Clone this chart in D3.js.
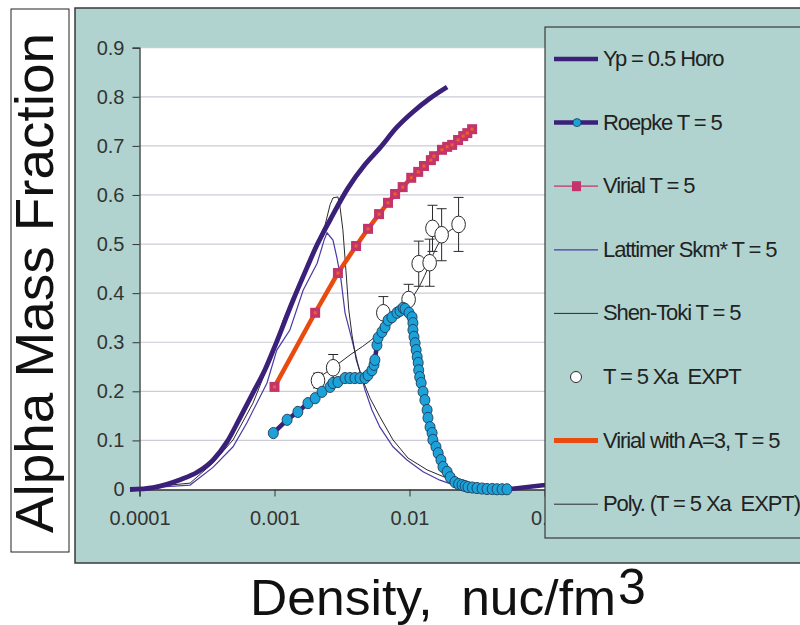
<!DOCTYPE html>
<html>
<head>
<meta charset="utf-8">
<script src="https://cdn.jsdelivr.net/npm/d3@7"></script>
<style>
  html, body { margin: 0; padding: 0; background: #fff; }
  svg { display: block; font-family: "Liberation Sans", Arial, sans-serif; }
</style>
</head>
<body>
<script>
// Yp = 0.5 Horo
const horoX = [8.5e-5, 1.26e-4, 2.0e-4, 2.67e-4, 3.5e-4, 4.45e-4, 5.55e-4, 6.93e-4, 8.5e-4, 1.0e-3, 1.37e-3, 1.74e-3, 2.0e-3, 2.58e-3, 3.5e-3, 4.68e-3, 6.04e-3, 8.07e-3, 1.06e-2, 1.42e-2, 1.90e-2];
const horoY = [0, 0.004, 0.02, 0.035, 0.06, 0.097, 0.146, 0.197, 0.244, 0.29, 0.385, 0.452, 0.49, 0.549, 0.614, 0.662, 0.696, 0.738, 0.769, 0.797, 0.820];

// Roepke T = 5
const roepkeX = [0.00098, 0.00124, 0.00149, 0.00177, 0.0020, 0.00225, 0.00258, 0.00271, 0.00295, 0.00333, 0.00362, 0.00394, 0.0043, 0.00468, 0.00493, 0.00527, 0.00546, 0.00554, 0.00574, 0.00585, 0.00625, 0.00659, 0.00694, 0.00741, 0.00807, 0.00851, 0.00895, 0.00927, 0.00991, 0.01045, 0.0106, 0.0106, 0.0108, 0.0110, 0.0112, 0.0114, 0.0116, 0.0117, 0.0119, 0.0122, 0.0126, 0.0130, 0.0135, 0.0137, 0.0142, 0.0147, 0.0149, 0.0157, 0.0163, 0.0171, 0.0177, 0.0190, 0.0200, 0.0217, 0.0231, 0.0245, 0.0258, 0.0271, 0.0292, 0.0316, 0.0345, 0.0375, 0.0410, 0.0445, 0.0485, 0.0527];
const roepkeY = [0.115, 0.142, 0.158, 0.176, 0.186, 0.199, 0.209, 0.217, 0.219, 0.227, 0.227, 0.227, 0.227, 0.227, 0.233, 0.243, 0.254, 0.264, 0.294, 0.309, 0.321, 0.331, 0.345, 0.351, 0.360, 0.364, 0.370, 0.368, 0.360, 0.351, 0.339, 0.325, 0.311, 0.298, 0.284, 0.270, 0.258, 0.243, 0.229, 0.217, 0.199, 0.182, 0.162, 0.146, 0.127, 0.115, 0.101, 0.087, 0.074, 0.060, 0.046, 0.036, 0.025, 0.015, 0.011, 0.009, 0.007, 0.005, 0.004, 0.003, 0.002, 0.001, 0.001, 0.0005, 0.0005, 0.0005];
const roepkeTailX = [0.0527, 0.101, 0.3];
const roepkeTailY = [0.0005, 0.009, 0.03];

// Virial T = 5 (and Virial with A=3, T = 5 on the same points)
const virialX = [0.001, 0.002, 0.00295, 0.00402, 0.00493, 0.00595, 0.00693, 0.00782, 0.0089, 0.0103, 0.0116, 0.0128, 0.0144, 0.0152, 0.0174, 0.0190, 0.0207, 0.0229, 0.0250, 0.0268, 0.0291];
const virialY = [0.209, 0.36, 0.441, 0.496, 0.531, 0.561, 0.584, 0.602, 0.616, 0.635, 0.647, 0.659, 0.671, 0.679, 0.692, 0.698, 0.702, 0.712, 0.72, 0.726, 0.734];

// Lattimer Skm* T = 5
const latX = [8.5e-5, 2.37e-4, 3.5e-4, 4.93e-4, 6.25e-4, 8.8e-4, 1.04e-3, 1.30e-3, 1.63e-3, 2.07e-3, 2.25e-3, 2.33e-3, 2.45e-3, 2.71e-3, 2.9e-3, 3.11e-3, 3.33e-3, 3.75e-3, 4.16e-3, 4.68e-3, 5.27e-3, 6.04e-3, 7.55e-3, 9.58e-3, 1.26e-2, 1.68e-2, 2.37e-2, 3.98e-2];
const latY = [0.001, 0.009, 0.045, 0.087, 0.136, 0.217, 0.284, 0.325, 0.406, 0.461, 0.494, 0.508, 0.523, 0.508, 0.472, 0.427, 0.36, 0.305, 0.254, 0.203, 0.162, 0.127, 0.087, 0.06, 0.036, 0.019, 0.005, 0.001];

// Shen-Toki T = 5
const shenX = [8.5e-5, 2.37e-4, 3.5e-4, 4.93e-4, 6.93e-4, 9.3e-4, 1.16e-3, 1.55e-3, 1.93e-3, 2.37e-3, 2.58e-3, 2.71e-3, 2.95e-3, 3.06e-3, 3.21e-3, 3.38e-3, 3.55e-3, 3.75e-3, 4.03e-3, 4.5e-3, 5.1e-3, 6.04e-3, 7.55e-3, 9.75e-3, 1.35e-2, 1.9e-2, 2.37e-2, 3.98e-2];
const shenY = [0.001, 0.013, 0.054, 0.101, 0.176, 0.264, 0.345, 0.427, 0.488, 0.539, 0.58, 0.594, 0.596, 0.575, 0.529, 0.447, 0.366, 0.315, 0.264, 0.223, 0.186, 0.148, 0.101, 0.064, 0.04, 0.023, 0.009, 0.001];

// T = 5 Xa EXPT
const exptX = [0.0021, 0.00272, 0.0064, 0.00985, 0.0117, 0.0141, 0.0148, 0.0173, 0.0231];
const exptY = [0.222, 0.248, 0.36, 0.387, 0.46, 0.462, 0.532, 0.519, 0.54];
const exptErr = [0.015, 0.027, 0.033, 0.031, 0.046, 0.048, 0.047, 0.053, 0.055];

// Poly. (T = 5 Xa EXPT)
const polyX = [2.1e-3, 2.9e-3, 3.62e-3, 4.84e-3, 6.04e-3, 7.55e-3, 9.58e-3, 1.14e-2, 1.35e-2, 1.55e-2, 1.77e-2, 2.25e-2];
const polyY = [0.227, 0.254, 0.274, 0.298, 0.321, 0.36, 0.38, 0.406, 0.447, 0.488, 0.514, 0.535];

const xTicks = [0.0001, 0.001, 0.01, 0.1];
const xTickLabels = ["0.0001", "0.001", "0.01", "0.1"];
const yTicks = [0, 0.1, 0.2, 0.3, 0.4, 0.5, 0.6, 0.7, 0.8, 0.9];
const legendNames = ["Yp = 0.5 Horo", "Roepke T = 5", "Virial T = 5", "Lattimer Skm* T = 5", "Shen-Toki T = 5", "T = 5 Xa\u00a0\u00a0EXPT", "Virial with A=3, T = 5", "Poly. (T = 5 Xa\u00a0\u00a0EXPT)"];

const W = 800, H = 625;
const teal = "#b0d3cf";
const purple = "#3a2079";
const cyan = "#1ca2d9";
const pink = "#c3356a";
const orange = "#e84a0f";
const latColor = "#4b3aa6";
const dark = "#2a2a2a";

const svg = d3.select("body").append("svg").attr("width", W).attr("height", H);

const x = d3.scaleLog().domain([1e-4, 1]).range([139.5, 679.5]);
const y = d3.scaleLinear().domain([0, 0.9]).range([489.5, 47.7]);

const zip = (xs, ys) => xs.map((v, i) => [v, ys[i]]);
const line = d3.line().x(d => x(d[0])).y(d => y(d[1]));
const smooth = d3.line().x(d => x(d[0])).y(d => y(d[1])).curve(d3.curveMonotoneX);

// outer chart panel
svg.append("rect").attr("x", 75).attr("y", 8).attr("width", 760).attr("height", 555)
  .attr("fill", teal).attr("stroke", "#3a3a3a").attr("stroke-width", 1.5);

// y title box
svg.append("rect").attr("x", 11).attr("y", 9).attr("width", 58).attr("height", 543)
  .attr("fill", "#fff").attr("stroke", "#222").attr("stroke-width", 1);
svg.append("text")
  .attr("transform", "translate(53,283) rotate(-90)")
  .attr("text-anchor", "middle")
  .attr("font-size", 54)
  .attr("textLength", 500)
  .attr("lengthAdjust", "spacingAndGlyphs")
  .attr("fill", "#111")
  .text("Alpha Mass Fraction");

// plot area
svg.append("rect").attr("x", 139.5).attr("y", 47.7).attr("width", 540).attr("height", 489.5 - 47.7)
  .attr("fill", "#fff");

// gridlines
svg.append("g").selectAll("line").data(yTicks.filter(d => d > 0)).join("line")
  .attr("x1", 139.5).attr("x2", 679.5)
  .attr("y1", d => y(d)).attr("y2", d => y(d))
  .attr("stroke", "#cbccd6").attr("stroke-width", 1.2);

// axes
const yAxis = svg.append("g").attr("transform", "translate(139.5,0)")
  .call(d3.axisLeft(y).tickValues(yTicks).tickSize(7).tickPadding(8).tickFormat(d => d === 0 ? "0" : d3.format(".1f")(d)));
const xAxis = svg.append("g").attr("transform", "translate(0,489.5)")
  .call(d3.axisBottom(x).tickValues(xTicks).tickSize(7).tickPadding(14).tickFormat((d, i) => xTickLabels[i]));
[yAxis, xAxis].forEach(g => {
  g.select(".domain").attr("stroke", "#333").attr("stroke-width", 1.3);
  g.selectAll(".tick line").attr("stroke", "#333");
  g.selectAll(".tick text").attr("font-size", 20).attr("fill", "#333")
    .attr("font-family", "'Liberation Sans', Arial, sans-serif");
});

// thin model curves
svg.append("path").datum(zip(latX, latY)).attr("d", line)
  .attr("fill", "none").attr("stroke", latColor).attr("stroke-width", 1.2);
svg.append("path").datum(zip(shenX, shenY)).attr("d", line)
  .attr("fill", "none").attr("stroke", dark).attr("stroke-width", 1);

// Horo
svg.append("path").datum(zip(horoX, horoY)).attr("d", smooth)
  .attr("fill", "none").attr("stroke", purple).attr("stroke-width", 4.8);

// polynomial trend of experiment
svg.append("path").datum(zip(polyX, polyY)).attr("d", smooth)
  .attr("fill", "none").attr("stroke", dark).attr("stroke-width", 1);

// experiment error bars and points
const expt = exptX.map((v, i) => ({ x: v, y: exptY[i], e: exptErr[i] }));
const eb = svg.append("g").attr("stroke", dark).attr("stroke-width", 1);
eb.selectAll("line.v").data(expt).join("line").attr("class", "v")
  .attr("x1", d => x(d.x)).attr("x2", d => x(d.x))
  .attr("y1", d => y(d.y - d.e)).attr("y2", d => y(d.y + d.e));
eb.selectAll("line.t").data(expt).join("line").attr("class", "t")
  .attr("x1", d => x(d.x) - 5).attr("x2", d => x(d.x) + 5)
  .attr("y1", d => y(d.y + d.e)).attr("y2", d => y(d.y + d.e));
eb.selectAll("line.b").data(expt).join("line").attr("class", "b")
  .attr("x1", d => x(d.x) - 5).attr("x2", d => x(d.x) + 5)
  .attr("y1", d => y(d.y - d.e)).attr("y2", d => y(d.y - d.e));
svg.append("g").selectAll("ellipse").data(expt).join("ellipse")
  .attr("cx", d => x(d.x)).attr("cy", d => y(d.y)).attr("rx", 6.8).attr("ry", 8.3)
  .attr("fill", "#fff").attr("stroke", dark).attr("stroke-width", 1);

// Roepke
svg.append("path").datum(zip(roepkeTailX, roepkeTailY)).attr("d", line)
  .attr("fill", "none").attr("stroke", purple).attr("stroke-width", 4.5);
svg.append("path").datum(zip(roepkeX, roepkeY)).attr("d", line)
  .attr("fill", "none").attr("stroke", purple).attr("stroke-width", 4.5);
svg.append("g").selectAll("ellipse").data(zip(roepkeX, roepkeY)).join("ellipse")
  .attr("cx", d => x(d[0])).attr("cy", d => y(d[1])).attr("rx", 5).attr("ry", 5.6)
  .attr("fill", cyan).attr("stroke", "#1d3d58").attr("stroke-width", 0.9);

// Virial with A=3 line, Virial squares, small orange markers
const vir = zip(virialX, virialY);
svg.append("path").datum(vir).attr("d", line)
  .attr("fill", "none").attr("stroke", orange).attr("stroke-width", 4.5);
svg.append("g").selectAll("rect").data(vir).join("rect")
  .attr("x", d => x(d[0]) - 5).attr("y", d => y(d[1]) - 5).attr("width", 10).attr("height", 10)
  .attr("fill", pink);
svg.append("g").selectAll("rect").data(vir).join("rect")
  .attr("x", d => x(d[0]) - 1.5).attr("y", d => y(d[1]) - 1.5).attr("width", 3).attr("height", 3)
  .attr("fill", "#f06020");

// legend
const lg = svg.append("g");
lg.append("rect").attr("x", 545).attr("y", 27).attr("width", 300).attr("height", 511)
  .attr("fill", teal).attr("stroke", "#3a3a3a").attr("stroke-width", 1.2);
const legendY = legendNames.map((d, i) => 59 + i * 63.6);
const item = lg.selectAll("g").data(legendNames).join("g")
  .attr("transform", (d, i) => `translate(0,${legendY[i]})`);
item.append("text").attr("x", 603).attr("y", 7).attr("font-size", 22).attr("letter-spacing", -1.1)
  .attr("fill", "#222").text(d => d);
const sw = [
  { c: purple, w: 4.5 }, { c: purple, w: 4.5 }, { c: pink, w: 1.2 }, { c: latColor, w: 1.2 },
  { c: dark, w: 1 }, null, { c: orange, w: 5 }, { c: dark, w: 1 }
];
item.each(function (d, i) {
  const g = d3.select(this);
  if (sw[i]) g.append("line").attr("x1", 554).attr("x2", 598).attr("y1", 0).attr("y2", 0)
    .attr("stroke", sw[i].c).attr("stroke-width", sw[i].w);
  if (i === 1) g.append("circle").attr("cx", 577).attr("cy", 0).attr("r", 4)
    .attr("fill", cyan).attr("stroke", "#1d3d58").attr("stroke-width", 0.8);
  if (i === 2) g.append("rect").attr("x", 572).attr("y", -5).attr("width", 9).attr("height", 10).attr("fill", pink);
  if (i === 5) g.append("circle").attr("cx", 576).attr("cy", 0).attr("r", 5.5)
    .attr("fill", "#fff").attr("stroke", dark).attr("stroke-width", 1);
});

// x title
svg.append("text").attr("x", 250).attr("y", 615).attr("font-size", 50)
  .attr("textLength", 366).attr("lengthAdjust", "spacingAndGlyphs")
  .attr("fill", "#111").attr("xml:space", "preserve").text("Density,  nuc/fm");
svg.append("text").attr("x", 618).attr("y", 604).attr("font-size", 50)
  .attr("fill", "#111").text("3");
</script>
</body>
</html>
